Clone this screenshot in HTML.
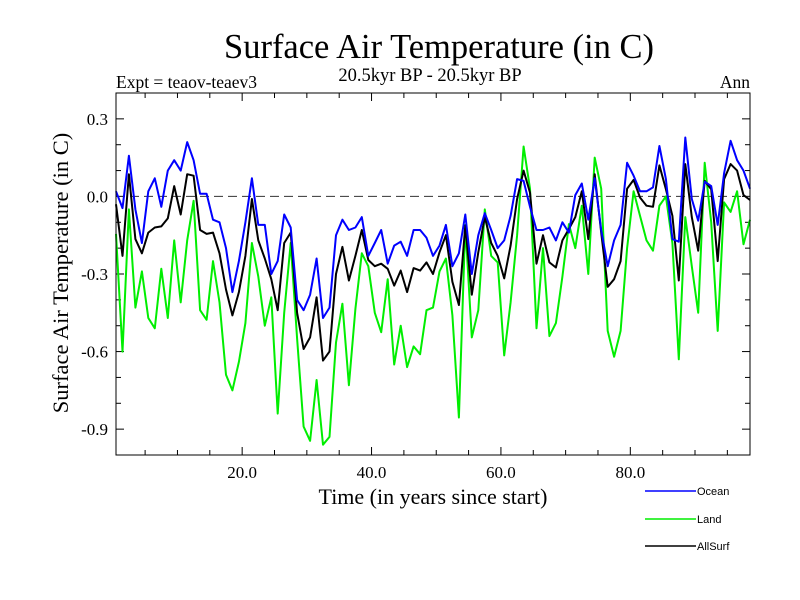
<!DOCTYPE html>
<html><head><meta charset="utf-8"><style>
body{margin:0;background:#fff}
svg{display:block}
.s{font-family:"Liberation Serif",serif}
.a{font-family:"Liberation Sans",sans-serif}
</style></head><body>
<svg id="chart" width="800" height="600" xmlns="http://www.w3.org/2000/svg">
<text class="s" x="439" y="58" font-size="34.5" text-anchor="middle">Surface Air Temperature (in C)</text>
<text class="s" x="430" y="81" font-size="18.5" text-anchor="middle">20.5kyr BP - 20.5kyr BP</text>
<text class="s" x="116" y="88" font-size="17.5">Expt = teaov-teaev3</text>
<text class="s" x="750" y="88" font-size="17.5" text-anchor="end">Ann</text>
<text class="s" transform="translate(68,273) rotate(-90)" font-size="22.5" text-anchor="middle">Surface Air Temperature (in C)</text>
<text class="s" x="433" y="504" font-size="22" text-anchor="middle">Time (in years since start)</text>
<g id="ticks"></g>
<g id="series"></g>
<rect x="116" y="93" width="634" height="362" fill="none" stroke="#000" stroke-width="1"/>
<g>
<line x1="645" y1="491" x2="696" y2="491" stroke="#0000ff" stroke-width="1.5"/>
<text class="a" x="697" y="495" font-size="11">Ocean</text>
<line x1="645" y1="519" x2="696" y2="519" stroke="#00ee00" stroke-width="1.5"/>
<text class="a" x="697" y="523" font-size="11">Land</text>
<line x1="645" y1="546" x2="696" y2="546" stroke="#000" stroke-width="1.5"/>
<text class="a" x="697" y="550" font-size="11">AllSurf</text>
</g>
</svg>
<script>
const xTickValues=[20,40,60,80];
const xTickLabels=["20.0","40.0","60.0","80.0"];
const yTickValues=[0.3,0,-0.3,-0.6,-0.9];
const yTickLabels=["0.3","0.0","-0.3","-0.6","-0.9"];
const ocean=[0.02,-0.045,0.157,-0.05,-0.18,0.02,0.07,-0.04,0.1,0.14,0.1,0.21,0.14,0.01,0.01,-0.09,-0.1,-0.2,-0.37,-0.25,-0.1,0.07,-0.11,-0.11,-0.3,-0.25,-0.07,-0.12,-0.4,-0.44,
-0.38,-0.24,-0.47,-0.43,-0.15,-0.09,-0.13,-0.12,-0.08,-0.23,-0.18,-0.13,-0.26,-0.19,-0.175,-0.23,-0.13,-0.13,-0.16,-0.23,-0.19,-0.11,-0.27,-0.22,-0.07,-0.3,-0.15,-0.065,-0.13,-0.2,-0.17,-0.075,0.067,0.06,
-0.04,-0.13,-0.13,-0.12,-0.17,-0.1,-0.14,0.005,0.05,-0.09,0.07,-0.13,-0.27,-0.17,-0.11,0.13,0.08,0.02,0.02,0.035,0.195,0.067,-0.165,-0.175,0.228,-0.01,-0.094,0.057,0.04,-0.11,0.09,0.215,0.14,0.1,0.03];
const land=[-0.145,-0.6,-0.05,-0.43,-0.29,-0.47,-0.51,-0.28,-0.47,-0.17,-0.41,-0.17,-0.017,-0.44,-0.477,-0.25,-0.41,-0.69,-0.75,-0.64,-0.49,-0.18,-0.31,-0.5,-0.39,-0.84,-0.45,-0.18,-0.55,-0.89,
-0.945,-0.71,-0.96,-0.93,-0.565,-0.415,-0.73,-0.435,-0.22,-0.27,-0.45,-0.525,-0.32,-0.65,-0.5,-0.66,-0.58,-0.61,-0.44,-0.43,-0.29,-0.24,-0.46,-0.855,-0.11,-0.545,-0.44,-0.05,-0.23,-0.255,-0.615,-0.41,-0.15,0.193,
0.03,-0.51,-0.2,-0.54,-0.49,-0.31,-0.107,-0.2,-0.036,-0.3,0.15,0.03,-0.52,-0.62,-0.52,-0.2,0.02,-0.075,-0.17,-0.21,-0.036,0,-0.18,-0.63,-0.08,-0.27,-0.45,0.13,-0.1,-0.52,-0.023,-0.06,0.02,-0.185,-0.09];
const allSurf=[-0.03,-0.23,0.086,-0.165,-0.22,-0.14,-0.12,-0.116,-0.085,0.04,-0.07,0.086,0.08,-0.13,-0.145,-0.14,-0.22,-0.36,-0.46,-0.37,-0.23,-0.01,-0.17,-0.24,-0.32,-0.44,-0.18,-0.14,-0.45,-0.59,
-0.545,-0.39,-0.635,-0.6,-0.3,-0.195,-0.325,-0.23,-0.13,-0.246,-0.27,-0.26,-0.28,-0.345,-0.287,-0.37,-0.277,-0.287,-0.255,-0.3,-0.216,-0.15,-0.33,-0.42,-0.113,-0.38,-0.216,-0.08,-0.18,-0.23,-0.317,-0.19,-0.01,0.1,
0.015,-0.26,-0.15,-0.255,-0.275,-0.17,-0.126,-0.08,0.02,-0.165,0.086,-0.14,-0.35,-0.32,-0.25,0.03,0.064,-0.004,-0.036,-0.04,0.12,0.028,-0.075,-0.325,0.125,-0.08,-0.21,0.06,0.028,-0.25,0.067,0.125,0.1,0.005,-0.014];

const L=116,R=750,T=93,B=455,XMIN=0.5,XMAX=98.5,YMIN=-1.0,YMAX=0.4;
function xs(t){return L+(t-XMIN)/(XMAX-XMIN)*(R-L);}
function ys(v){return B-(v-YMIN)/(YMAX-YMIN)*(B-T);}
const NS="http://www.w3.org/2000/svg";
const tg=document.getElementById('ticks'),sg=document.getElementById('series');
function mk(tag,attrs,parent){const e=document.createElementNS(NS,tag);for(const k in attrs)e.setAttribute(k,attrs[k]);parent.appendChild(e);return e;}
for(let t=5;t<XMAX;t+=5){
  const x=xs(t),len=(t%20===0)?8:5;
  const a=mk('line',{x1:x,y1:B,x2:x,y2:B-len,stroke:'#000'},tg);
  
  
  const b=mk('line',{x1:x,y1:T,x2:x,y2:T+len,stroke:'#000'},tg);
  
  
}
for(let i=-9;i<=3;i++){
  const v=i/10,y=ys(v),len=(i%3===0)?8:5;
  const a=mk('line',{x1:L,y1:y,x2:L+len,y2:y,stroke:'#000'},tg);
  
  
  const b=mk('line',{x1:R,y1:y,x2:R-len,y2:y,stroke:'#000'},tg);
  
  
}
xTickValues.forEach((t,i)=>{
  const e=mk('text',{x:xs(t),y:478,'font-size':17,'text-anchor':'middle','class':'s'},tg);
  e.textContent=xTickLabels[i];
  
  
});
yTickValues.forEach((v,i)=>{
  const e=mk('text',{x:108,y:ys(v)+6,'font-size':17,'text-anchor':'end','class':'s'},tg);
  e.textContent=yTickLabels[i];
  
  
});
const zl=mk('line',{x1:L,y1:ys(0),x2:R,y2:ys(0),stroke:'#333','stroke-dasharray':'9,5'},sg);


function draw(arr,color,name){
  const pts=arr.map((v,i)=>xs(i+XMIN).toFixed(1)+','+ys(v).toFixed(1)).join(' ');
  const p=mk('polyline',{points:pts,fill:'none',stroke:color,'stroke-width':2,'stroke-linejoin':'round'},sg);
  
  
}
draw(land,'#00ee00','land-line');
draw(allSurf,'#000000','allsurf-line');
draw(ocean,'#0000ff','ocean-line');
</script>
</body></html>
